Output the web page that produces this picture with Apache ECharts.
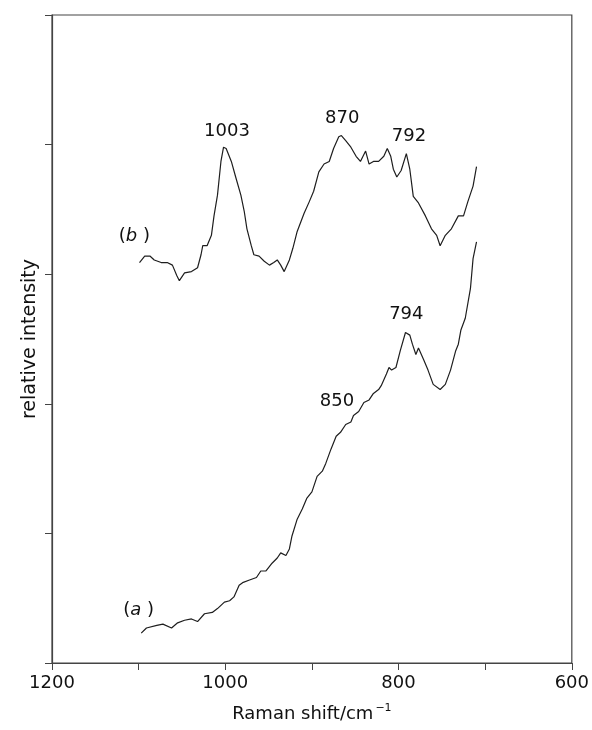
<!DOCTYPE html>
<html>
<head>
<meta charset="utf-8">
<script src="https://cdn.jsdelivr.net/npm/echarts@6/dist/echarts.min.js"></script>
<style>html,body{margin:0;padding:0;background:#fff}#c{width:592px;height:730px}</style>
</head>
<body>
<div id="c"></div>
<script>
// Spectrum (b): Raman shift (cm^-1), relative intensity
const shiftB = [1099,1093,1087,1082,1074,1067,1061,1056,1053,1047,1039,1032,1028,1026,1021,1016,1013,1009,1005,1002,999,993,988,986,982,978,975,970,967,961,955,949,944,940,936,932,926,922,917,909,903,898,892,886,880,875,869,866,861,855,849,844,838,834,829,823,817,813,809,806,802,797,791,787,783,777,769,762,756,752,746,739,731,725,720,714,710];
const intensityB = [3.09,3.14,3.14,3.11,3.09,3.09,3.07,2.99,2.95,3.01,3.02,3.05,3.15,3.22,3.22,3.30,3.45,3.61,3.87,3.98,3.97,3.87,3.75,3.74,3.61,3.48,3.35,3.22,3.15,3.14,3.10,3.07,3.09,3.11,3.07,3.02,3.11,3.20,3.33,3.47,3.56,3.64,3.79,3.85,3.87,3.97,4.06,4.07,4.03,3.98,3.91,3.87,3.95,3.85,3.87,3.87,3.91,3.97,3.91,3.81,3.75,3.80,3.93,3.81,3.60,3.55,3.45,3.35,3.30,3.22,3.30,3.35,3.45,3.45,3.56,3.68,3.83];

// Spectrum (a)
const shiftA = [1097,1091,1079,1072,1062,1055,1047,1039,1032,1024,1015,1009,1001,995,990,984,980,972,964,959,953,946,940,936,930,926,923,917,911,906,900,894,888,884,878,872,867,861,855,852,846,840,834,829,823,820,814,811,808,803,798,792,787,784,780,777,771,766,760,752,746,740,734,731,728,723,717,714,710];
const intensityA = [0.23,0.27,0.29,0.30,0.27,0.31,0.33,0.34,0.32,0.38,0.39,0.42,0.47,0.48,0.51,0.60,0.62,0.64,0.66,0.71,0.71,0.77,0.81,0.85,0.83,0.88,0.98,1.11,1.19,1.27,1.32,1.44,1.48,1.54,1.65,1.75,1.78,1.84,1.86,1.91,1.94,2.01,2.03,2.08,2.11,2.14,2.23,2.28,2.26,2.28,2.41,2.55,2.53,2.46,2.38,2.43,2.34,2.26,2.15,2.11,2.15,2.26,2.41,2.46,2.57,2.66,2.89,3.12,3.25];

// Annotations: text, anchor shift, anchor intensity
const annText  = ['1003','870','792','(b)','794','850','(a)'];
const annShift = [998, 865, 788, 1105, 791, 871, 1100];
const annValue = [4.10, 4.20, 4.06, 3.29, 2.69, 2.02, 0.41];

// Axis ticks
const xTickLabels = ['1200','1000','800','600'];
const xMin = 600, xMax = 1200, xStep = 100;
const yMin = 0, yMax = 5, yStep = 1;

const FONT = 'DejaVu Sans';
const ink = '#1e1e1e';
const txt = '#111';

const zip = (a, b) => a.map((v, i) => [v, b[i]]);
const annData = annText.map((t, i) => ({ value: [annShift[i], annValue[i]], name: t }));

const chart = echarts.init(document.getElementById('c'), null, { renderer: 'canvas' });
chart.setOption({
  backgroundColor: '#fff',
  animation: false,
  grid: { left: 52, top: 15, right: 17, bottom: 62, show: true, borderColor: '#444', borderWidth: 1.2, backgroundColor: 'transparent' },
  xAxis: {
    type: 'value', inverse: true, min: xMin, max: xMax, interval: xStep,
    axisLine: { lineStyle: { color: '#444', width: 1.2 } },
    axisTick: { show: true, inside: false, length: 7, lineStyle: { color: '#444' } },
    splitLine: { show: false },
    axisLabel: {
      color: txt, fontFamily: FONT, fontSize: 18, margin: 11,
      formatter: v => xTickLabels.includes(String(v)) ? String(v) : ''
    },
    name: 'Raman shift/cm{sup|−1}', nameLocation: 'middle', nameGap: 40,
    nameTextStyle: {
      color: txt, fontFamily: FONT, fontSize: 18, lineHeight: 22,
      rich: { sup: { fontSize: 11, fontFamily: FONT, color: txt, verticalAlign: 'top', lineHeight: 22, padding: [0,0,8,2] } }
    }
  },
  yAxis: {
    type: 'value', min: yMin, max: yMax, interval: yStep,
    axisLine: { show: true, lineStyle: { color: '#444', width: 1.2 } },
    axisTick: { show: true, inside: false, length: 7, lineStyle: { color: '#444' } },
    splitLine: { show: false },
    axisLabel: { show: false },
    name: 'relative intensity', nameLocation: 'middle', nameGap: 12,
    nameTextStyle: { color: txt, fontFamily: FONT, fontSize: 19 }
  },
  series: [
    { type: 'line', data: zip(shiftA, intensityA), showSymbol: false, symbol: 'none',
      lineStyle: { color: ink, width: 1.2 }, silent: true },
    { type: 'line', data: zip(shiftB, intensityB), showSymbol: false, symbol: 'none',
      lineStyle: { color: ink, width: 1.2 }, silent: true },
    { type: 'scatter', data: annData, symbolSize: 0, silent: true,
      itemStyle: { opacity: 1 },
      label: {
        show: true, position: 'inside', color: txt, fontFamily: FONT, fontSize: 18,
        formatter: p => {
          const m = /^\((\w)\)$/.exec(p.name);
          return m ? '({it|' + m[1] + '} )' : p.name;
        },
        rich: { it: { fontStyle: 'italic', fontFamily: FONT, fontSize: 18, color: txt } }
      } }
  ]
});
</script>
</body>
</html>
